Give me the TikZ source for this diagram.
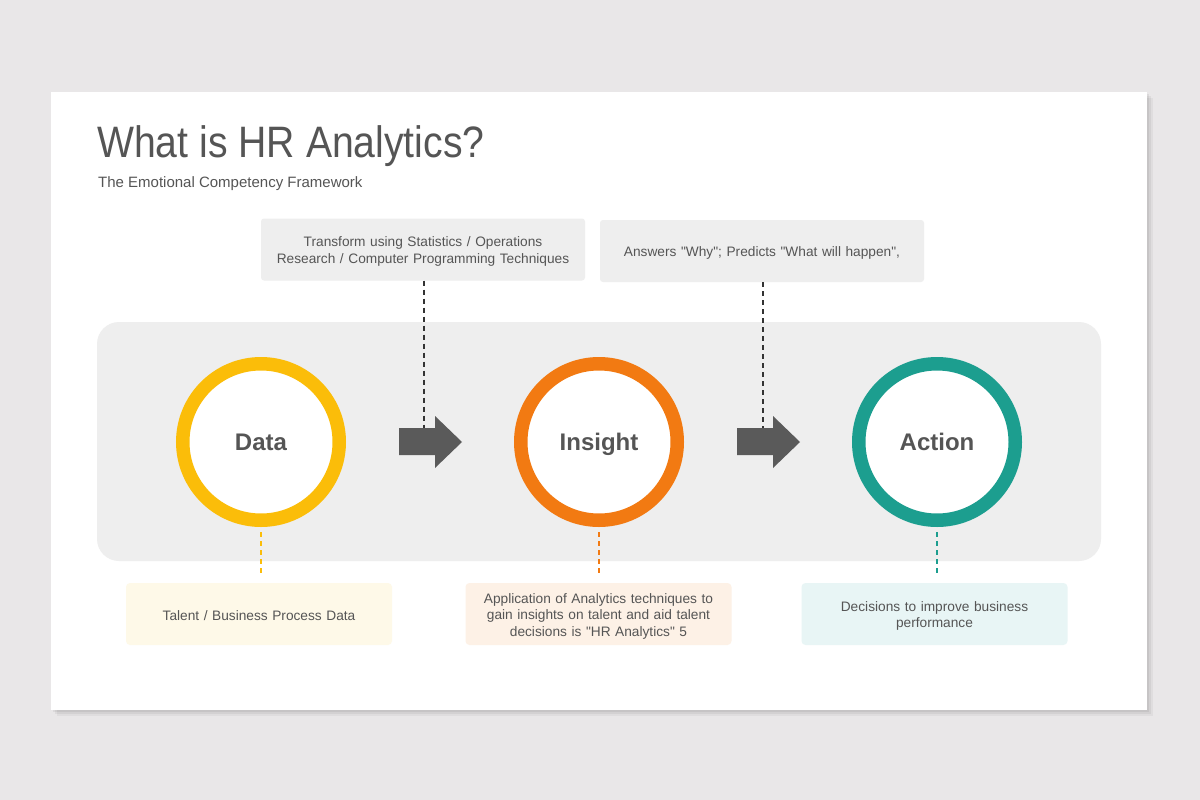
\documentclass[tikz,border=0pt]{standalone}
\usepackage{fontspec}
\setmainfont{Liberation Sans}
\newfontfamily\titlefont[FakeStretch=0.89]{Liberation Sans}
\newcommand{\toprule}{\rule{0pt}{14.3pt}}
\newcommand{\toprulesmall}{\rule{0pt}{12.2pt}}
\definecolor{bgc}{HTML}{E9E7E8}
\definecolor{panelc}{HTML}{EEEEEE}
\definecolor{txtc}{HTML}{555555}
\definecolor{arrc}{HTML}{5A5A5A}
\definecolor{yel}{HTML}{FBBD09}
\definecolor{ora}{HTML}{F27A12}
\definecolor{tea}{HTML}{1C9E8F}
\definecolor{boxy}{HTML}{FEF9E8}
\definecolor{boxo}{HTML}{FDF1E6}
\definecolor{boxt}{HTML}{E8F5F5}
\begin{document}
\begin{tikzpicture}[x=1pt,y=-1pt,
  topbox/.style={fill=panelc, rounded corners=3pt, minimum width=324pt, minimum height=62pt, text width=316pt, align=center, text=txtc, font=\fontsize{13.7}{17}\selectfont, inner sep=0pt},
  botbox/.style={rounded corners=4pt, minimum width=266pt, minimum height=62pt, text width=262pt, align=center, text=txtc, font=\fontsize{13.7}{16.5}\selectfont, inner sep=0pt},
  ring/.style={circle, draw=#1, line width=13.5pt, fill=white, minimum size=156.5pt, inner sep=0pt, text=txtc, font=\bfseries\fontsize{24}{28}\selectfont, text height=17.2pt, text depth=0pt},
  dashdark/.style={draw=black!80, line width=1.4pt, dash pattern=on 5pt off 4pt},
  dashcol/.style={draw=#1, line width=1.6pt, dash pattern=on 5pt off 4pt},
  arrowshape/.style={fill=arrc}
]
\useasboundingbox (0,0) rectangle (1200,800);
\fill[bgc] (0,0) rectangle (1200,800);
% slide shadow
\foreach \i/\o in {6/0.04,4/0.05,2/0.06}{
  \fill[black, opacity=\o] (51+\i,92+\i) rectangle (1147+\i,710+\i);
}
\fill[white] (51,92) rectangle (1147,710);
% title
\node[anchor=base west, inner sep=0pt, text=txtc, font=\titlefont\fontsize{44}{50}\selectfont] (title) at (97,157) {What is HR Analytics?};
\node[anchor=base west, inner sep=0pt, text=txtc, font=\fontsize{15}{18}\selectfont] (sub) at (98,187) {The Emotional Competency Framework};
% panel
\fill[panelc, rounded corners=22pt] (97,322) rectangle (1101,561);
% top boxes
\node[topbox] (t1) at (423,249.5) {\toprule Transform using Statistics / Operations\\Research / Computer Programming Techniques};
\node[topbox] (t2) at (762,251) {\toprule Answers \textquotedbl Why\textquotedbl; Predicts \textquotedbl What will happen\textquotedbl,};
% arrows
\coordinate (a1) at (424,428);
\coordinate (a2) at (763,428);
\fill[arrowshape] (399,428) -- (435,428) -- (435,416) -- (462,442) -- (435,468) -- (435,455) -- (399,455) -- cycle;
\fill[arrowshape] (737,428) -- (773,428) -- (773,416) -- (800,442) -- (773,468) -- (773,455) -- (737,455) -- cycle;
\draw[dashdark] (t1.south -| a1) -- (a1);
\draw[dashdark] (t2.south -| a2) -- (a2);
% circles
\node[ring=yel] (c1) at (261,442) {Data};
\node[ring=ora] (c2) at (599,442) {Insight};
\node[ring=tea] (c3) at (937,442) {Action};
% bottom boxes
\node[botbox, fill=boxy] (b1) at (259,614) {\toprulesmall Talent / Business Process Data};
\node[botbox, fill=boxo] (b2) at (598.5,614) {\toprule Application of Analytics techniques to\\gain insights on talent and aid talent\\decisions is \textquotedbl HR Analytics\textquotedbl{} 5};
\node[botbox, fill=boxt] (b3) at (934.5,614) {\toprule Decisions to improve business\\performance};
\draw[dashcol=yel] ([yshift=-5pt]c1.south) -- ([yshift=8pt]b1.north -| c1);
\draw[dashcol=ora] ([yshift=-5pt]c2.south) -- ([yshift=8pt]b2.north -| c2);
\draw[dashcol=tea] ([yshift=-5pt]c3.south) -- ([yshift=8pt]b3.north -| c3);
\end{tikzpicture}
\end{document}
